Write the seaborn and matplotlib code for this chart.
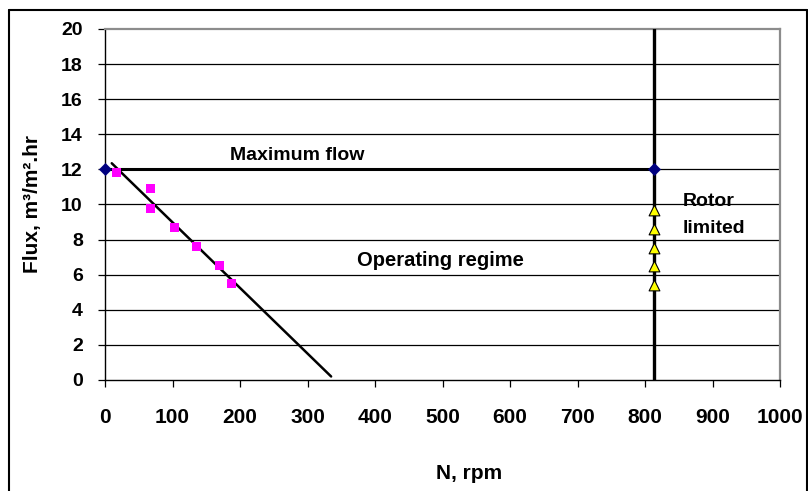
import matplotlib
matplotlib.use("Agg")
import matplotlib.pyplot as plt
from matplotlib.lines import Line2D
import seaborn as sns
import pandas as pd

# Measured flux vs rotor speed
speed_rpm = [17, 68, 68, 103, 136, 170, 188]
flux_meas = [11.8, 10.9, 9.8, 8.7, 7.6, 6.5, 5.5]

# Fitted trend line end points
fit_rpm = [10, 335]
fit_flux = [12.35, 0.2]

# Maximum flow boundary
maxflow_rpm = [0, 813]
maxflow_flux = [12, 12]

# Rotor limit
rotor_rpm = 813
rotor_flux_span = [0, 20]
rotor_flux_pts = [9.7, 8.6, 7.5, 6.5, 5.4]

x_ticks = list(range(0, 1001, 100))
y_ticks = list(range(0, 21, 2))

sns.set_theme(style="white")
plt.rcParams["font.family"] = ["Liberation Sans", "DejaVu Sans"]
plt.rcParams["font.weight"] = "bold"
plt.rcParams["text.color"] = "black"
plt.rcParams["axes.labelcolor"] = "black"
plt.rcParams["xtick.color"] = "black"
plt.rcParams["ytick.color"] = "black"

fig = plt.figure(figsize=(8.08, 4.91), dpi=100)
ax = fig.add_axes([105 / 808, 1 - 380 / 491, 675 / 808, 351 / 491])

# horizontal gridlines
for yv in y_ticks[1:-1]:
    ax.axhline(yv, color="black", lw=0.9, zorder=0)

df_fit = pd.DataFrame({"N": fit_rpm, "Flux": fit_flux})
sns.lineplot(data=df_fit, x="N", y="Flux", ax=ax, color="black", lw=1.8,
             estimator=None, sort=False, zorder=3)

df_max = pd.DataFrame({"N": maxflow_rpm, "Flux": maxflow_flux})
sns.lineplot(data=df_max, x="N", y="Flux", ax=ax, color="black", lw=2.2,
             estimator=None, sort=False, zorder=3)

df_rotor = pd.DataFrame({"N": [rotor_rpm] * 2, "Flux": rotor_flux_span})
sns.lineplot(data=df_rotor, x="N", y="Flux", ax=ax, color="black", lw=2.4,
             estimator=None, sort=False, zorder=3)

sns.scatterplot(data=df_max, x="N", y="Flux", ax=ax, marker="D", s=38,
                color="#000080", edgecolor="#000080", zorder=5, clip_on=False)

df_meas = pd.DataFrame({"N": speed_rpm, "Flux": flux_meas})
sns.scatterplot(data=df_meas, x="N", y="Flux", ax=ax, marker="s", s=42,
                color="#FF00FF", edgecolor="none", linewidth=0, zorder=4)

df_tri = pd.DataFrame({"N": [rotor_rpm] * len(rotor_flux_pts), "Flux": rotor_flux_pts})
sns.scatterplot(data=df_tri, x="N", y="Flux", ax=ax, marker="^", s=60,
                color="#FFFF00", edgecolor="black", linewidth=0.8, zorder=5)

ax.set_xlim(0, 1000)
ax.set_ylim(0, 20)
ax.set_xticks(x_ticks)
ax.set_yticks(y_ticks)
ax.tick_params(axis="both", which="major", direction="out", length=5, width=0.9,
               color="black", bottom=True, left=True)
ax.tick_params(axis="x", pad=15, labelsize=15)
ax.tick_params(axis="y", pad=11, labelsize=14)
for lbl in ax.get_xticklabels() + ax.get_yticklabels():
    lbl.set_fontweight("bold")

for side in ["left", "bottom"]:
    ax.spines[side].set_color("black")
    ax.spines[side].set_linewidth(1.0)
for side in ["top", "right"]:
    ax.spines[side].set_color("#8c8c8c")
    ax.spines[side].set_linewidth(1.6)

ax.set_xlabel("N, rpm", fontsize=15, fontweight="bold")
ax.set_ylabel("Flux, m³/m².hr", fontsize=15, fontweight="bold")
ax.xaxis.set_label_coords(0.539, -0.265)
ax.xaxis.label.set_verticalalignment("center")
ax.yaxis.set_label_coords(-0.107, 0.5)
ax.yaxis.label.set_verticalalignment("center")

ax.text(185, 12.8, "Maximum flow", fontsize=14, fontweight="bold",
        ha="left", va="center")
ax.text(374, 6.8, "Operating regime", fontsize=14.5, fontweight="bold",
        ha="left", va="center")
ax.text(856, 9.4, "Rotor\nlimited", fontsize=14, fontweight="bold",
        ha="left", va="center", linespacing=1.7)

# chart area frame
fx = lambda p: p / 808
fy = lambda p: 1 - p / 491
frame_kw = dict(color="black", lw=1.5, transform=fig.transFigure)
fig.add_artist(Line2D([fx(8.5), fx(8.5)], [fy(9.5), 0], **frame_kw))
fig.add_artist(Line2D([fx(8.5), fx(806.5)], [fy(9.5), fy(9.5)], **frame_kw))
fig.add_artist(Line2D([fx(806.5), fx(806.5)], [fy(9.5), 0], **frame_kw))

fig.savefig("out.png", dpi=100)
